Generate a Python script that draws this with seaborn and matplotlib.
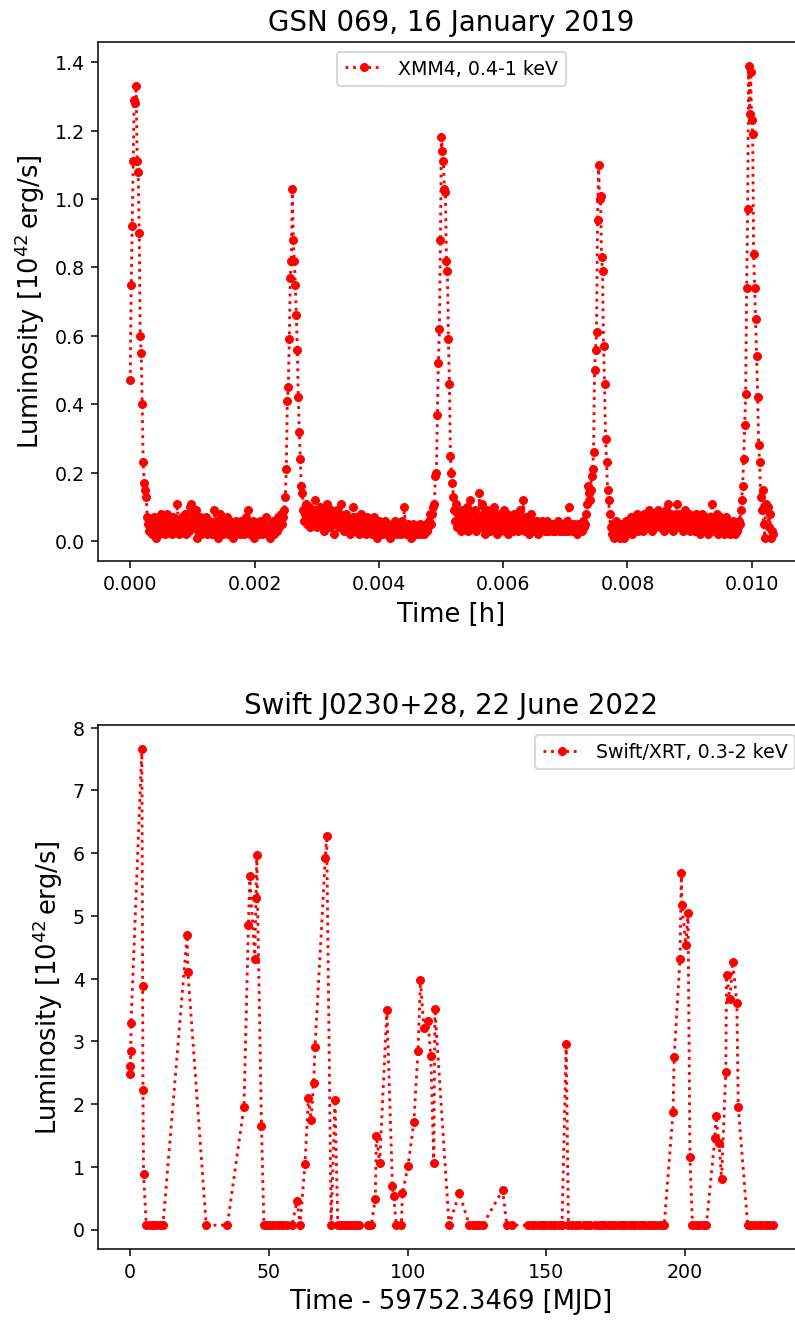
import numpy as np
import pandas as pd
import matplotlib
matplotlib.use('Agg')
import matplotlib.pyplot as plt
import seaborn as sns

# ---- GSN 069, XMM4 light curve (10^42 erg/s) ----
# one bin every 1.61e-5 h; the curve is stored piece by piece
bin_h = 1.61e-5

flare1 = [0.47, 0.75, 0.92, 1.11, 1.29, 1.28, 1.33, 1.11, 1.08, 0.90,
          0.60, 0.55, 0.40, 0.23, 0.17, 0.15, 0.13]
base1 = [0.07, 0.05, 0.03, 0.06, 0.04, 0.02, 0.05, 0.07, 0.03, 0.01,
         0.04, 0.06, 0.02, 0.05, 0.08, 0.03, 0.04, 0.06, 0.02, 0.05,
         0.08, 0.04, 0.03, 0.06, 0.05, 0.02, 0.07, 0.04, 0.06, 0.03,
         0.11, 0.05, 0.02, 0.06, 0.04, 0.07, 0.03, 0.05, 0.08, 0.02,
         0.04, 0.06, 0.03, 0.10, 0.11, 0.05, 0.08, 0.04, 0.06, 0.09,
         0.01, 0.03, 0.05, 0.07, 0.02, 0.06, 0.04, 0.03, 0.05, 0.07,
         0.02, 0.04, 0.06, 0.03, 0.05, 0.02, 0.04, 0.09, 0.03, 0.06,
         0.04, 0.01, 0.05, 0.08, 0.03, 0.06, 0.02, 0.04, 0.05, 0.03,
         0.07, 0.02, 0.04, 0.06, 0.03, 0.05, 0.01, 0.04, 0.02, 0.06,
         0.03, 0.05, 0.04, 0.02, 0.06, 0.03, 0.05, 0.02, 0.04, 0.07,
         0.03, 0.09, 0.04, 0.02, 0.05, 0.03, 0.06, 0.01, 0.04, 0.03,
         0.05, 0.02, 0.04, 0.06, 0.03, 0.02, 0.05, 0.04, 0.03, 0.07,
         0.02, 0.04, 0.03, 0.01, 0.05, 0.03, 0.06, 0.02, 0.04, 0.05,
         0.03, 0.07, 0.04, 0.06, 0.08, 0.05, 0.07]
flare2 = [0.09, 0.13, 0.21, 0.41, 0.45, 0.59, 0.77, 0.82, 1.03, 0.88,
          0.82, 0.75, 0.66, 0.56, 0.42, 0.32, 0.24, 0.16, 0.14]
base2 = [0.09, 0.06, 0.08, 0.11, 0.05, 0.07, 0.10, 0.04, 0.08, 0.06,
         0.09, 0.05, 0.12, 0.07, 0.04, 0.08, 0.06, 0.10, 0.05, 0.07,
         0.09, 0.03, 0.06, 0.08, 0.11, 0.05, 0.07, 0.04, 0.09, 0.06,
         0.08, 0.02, 0.07, 0.05, 0.09, 0.06, 0.04, 0.08, 0.11, 0.05,
         0.07, 0.03, 0.06, 0.08, 0.04, 0.07, 0.05, 0.02, 0.06, 0.04,
         0.10, 0.05, 0.03, 0.07, 0.04, 0.06, 0.02, 0.05, 0.08, 0.03,
         0.06, 0.04, 0.05, 0.02, 0.07, 0.04, 0.03, 0.06, 0.05, 0.02,
         0.04, 0.07, 0.03, 0.05, 0.01, 0.04, 0.06, 0.03, 0.05, 0.02,
         0.04, 0.03, 0.06, 0.02, 0.05, 0.03, 0.04, 0.01, 0.03, 0.05,
         0.02, 0.04, 0.06, 0.03, 0.02, 0.05, 0.03, 0.04, 0.02, 0.06,
         0.03, 0.10, 0.04, 0.02, 0.03, 0.05, 0.02, 0.04, 0.01, 0.03,
         0.05, 0.02, 0.04, 0.03, 0.02, 0.04, 0.03, 0.05, 0.02, 0.03,
         0.04, 0.02, 0.03, 0.05, 0.03, 0.04, 0.06]
flare3 = [0.08, 0.05, 0.08, 0.10, 0.11, 0.19, 0.20, 0.37, 0.52, 0.62,
          0.88, 1.18, 1.14, 1.11, 1.03, 1.02, 0.82, 0.79, 0.59, 0.46,
          0.25, 0.20, 0.17, 0.13]
base3 = [0.09, 0.06, 0.11, 0.04, 0.08, 0.05, 0.07, 0.03, 0.09, 0.06,
         0.04, 0.08, 0.05, 0.10, 0.03, 0.07, 0.12, 0.05, 0.08, 0.04,
         0.06, 0.09, 0.03, 0.07, 0.05, 0.14, 0.06, 0.04, 0.11, 0.08,
         0.05, 0.02, 0.07, 0.09, 0.04, 0.06, 0.03, 0.08, 0.05, 0.07,
         0.10, 0.04, 0.06, 0.02, 0.08, 0.05, 0.03, 0.07, 0.04, 0.06,
         0.09, 0.03, 0.05, 0.08, 0.02, 0.06, 0.04, 0.07, 0.05, 0.03,
         0.08, 0.06, 0.04, 0.07, 0.03, 0.05, 0.09, 0.04, 0.06, 0.12,
         0.05, 0.03, 0.07, 0.04, 0.06, 0.02, 0.05, 0.08, 0.04, 0.06,
         0.03, 0.05, 0.04, 0.06, 0.02, 0.05, 0.04, 0.03, 0.06, 0.04,
         0.05, 0.03, 0.04, 0.06, 0.03, 0.05, 0.04, 0.03, 0.05, 0.04,
         0.03, 0.05, 0.04, 0.06, 0.03, 0.04, 0.05, 0.03, 0.04, 0.05,
         0.03, 0.04, 0.06, 0.03, 0.10, 0.04, 0.05, 0.03, 0.04, 0.05,
         0.03, 0.04, 0.02, 0.05, 0.03, 0.04, 0.05, 0.03, 0.06, 0.04,
         0.05]
flare4 = [0.08, 0.11, 0.16, 0.14, 0.12, 0.15, 0.19, 0.21, 0.26, 0.50,
          0.56, 0.61, 0.94, 1.10, 1.00, 1.01, 0.83, 0.79, 0.57, 0.46,
          0.30, 0.23, 0.15, 0.12, 0.08]
base4 = [0.04, 0.02, 0.05, 0.01, 0.03, 0.06, 0.02, 0.04, 0.03, 0.01,
         0.05, 0.02, 0.04, 0.01, 0.03, 0.06, 0.02, 0.05, 0.03, 0.04,
         0.07, 0.02, 0.05, 0.03, 0.06, 0.04, 0.08, 0.03, 0.05, 0.07,
         0.04, 0.06, 0.03, 0.08, 0.05, 0.07, 0.04, 0.06, 0.09, 0.05,
         0.07, 0.03, 0.06, 0.08, 0.04, 0.07, 0.05, 0.09, 0.06, 0.04,
         0.08, 0.05, 0.07, 0.03, 0.06, 0.09, 0.05, 0.11, 0.07, 0.04,
         0.08, 0.06, 0.03, 0.07, 0.05, 0.08, 0.11, 0.04, 0.06, 0.08,
         0.05, 0.07, 0.03, 0.06, 0.09, 0.04, 0.07, 0.05, 0.08, 0.03,
         0.06, 0.04, 0.07, 0.05, 0.03, 0.08, 0.06, 0.04, 0.07, 0.02,
         0.05, 0.08, 0.04, 0.06, 0.03, 0.07, 0.05, 0.02, 0.06, 0.04,
         0.07, 0.11, 0.05, 0.03, 0.06, 0.04, 0.08, 0.02, 0.05, 0.07,
         0.03, 0.06, 0.04, 0.02, 0.05, 0.07, 0.03, 0.06, 0.04, 0.02,
         0.05, 0.03, 0.06, 0.04, 0.02, 0.05, 0.03, 0.04, 0.06]
flare5 = [0.05, 0.09, 0.12, 0.16, 0.24, 0.34, 0.43, 0.74, 0.97, 1.39,
          1.25, 1.37, 1.23, 1.19, 0.84, 0.74, 0.65, 0.54, 0.42, 0.28,
          0.23, 0.13, 0.09, 0.15, 0.05, 0.01, 0.11, 0.09, 0.10, 0.04,
          0.08, 0.01, 0.03, 0.02]

# ---- Swift J0230+28, Swift/XRT light curve ----
swift_time = [0.0, 0.1, 0.2, 0.3, 4.2, 4.5, 4.6, 4.8, 5.8, 7.0,
              8.2, 9.4, 10.6, 11.8, 20.5, 20.8, 27.4, 35.0, 41.0, 42.6,
              43.1, 44.9, 45.3, 45.6, 47.3, 48.2, 49.2, 50.4, 51.6, 52.8,
              54.0, 55.2, 56.4, 58.3, 60.1, 61.2, 63.0, 64.2, 65.2, 66.1,
              66.6, 70.3, 70.8, 72.4, 73.8, 74.8, 75.9, 77.0, 78.1, 79.2,
              80.3, 81.4, 82.5, 85.6, 86.9, 88.3, 88.7, 89.9, 92.5, 94.5,
              94.9, 95.9, 97.7, 98.1, 100.1, 102.2, 103.7, 104.6, 105.8, 107.3,
              108.3, 109.4, 109.8, 114.9, 118.6, 122.2, 123.4, 124.6, 125.8, 127.0,
              134.2, 135.7, 137.5, 143.5, 144.7, 146.0, 147.2, 148.4, 149.6, 150.8,
              152.0, 153.2, 154.4, 155.6, 157.1, 157.9, 159.2, 160.5, 161.8, 163.4,
              164.6, 165.8, 167.6, 168.8, 170.0, 171.2, 172.4, 173.6, 174.8, 176.0,
              177.2, 178.4, 179.6, 180.8, 182.0, 183.2, 184.4, 185.6, 186.8, 188.0,
              189.2, 190.4, 191.6, 192.4, 195.6, 196.0, 198.1, 198.6, 198.8, 200.2,
              201.0, 201.7, 202.6, 203.8, 205.0, 206.3, 207.6, 210.7, 211.0, 212.2,
              213.1, 214.6, 214.9, 216.1, 217.1, 218.6, 219.1, 222.5, 223.8, 225.1,
              226.4, 227.7, 229.0, 230.3, 231.5]
swift_lum = [2.48, 2.61, 2.84, 3.29, 7.66, 3.88, 2.23, 0.88, 0.07, 0.07,
             0.07, 0.07, 0.07, 0.07, 4.69, 4.10, 0.07, 0.07, 1.96, 4.85,
             5.64, 4.31, 5.28, 5.97, 1.65, 0.07, 0.07, 0.07, 0.07, 0.07,
             0.07, 0.07, 0.07, 0.07, 0.46, 0.07, 1.05, 2.09, 1.75, 2.34,
             2.91, 5.92, 6.28, 0.07, 2.07, 0.07, 0.07, 0.07, 0.07, 0.07,
             0.07, 0.07, 0.07, 0.07, 0.07, 0.49, 1.49, 1.06, 3.50, 0.70,
             0.54, 0.07, 0.07, 0.58, 1.01, 1.71, 2.84, 3.97, 3.21, 3.32,
             2.77, 1.06, 3.52, 0.07, 0.58, 0.07, 0.07, 0.07, 0.07, 0.07,
             0.63, 0.07, 0.07, 0.07, 0.07, 0.07, 0.07, 0.07, 0.07, 0.07,
             0.07, 0.07, 0.07, 0.07, 2.95, 0.07, 0.07, 0.07, 0.07, 0.07,
             0.07, 0.07, 0.07, 0.07, 0.07, 0.07, 0.07, 0.07, 0.07, 0.07,
             0.07, 0.07, 0.07, 0.07, 0.07, 0.07, 0.07, 0.07, 0.07, 0.07,
             0.07, 0.07, 0.07, 0.07, 1.87, 2.75, 4.31, 5.69, 5.18, 4.54,
             5.04, 1.15, 0.07, 0.07, 0.07, 0.07, 0.07, 1.46, 1.81, 1.38,
             0.81, 2.51, 4.05, 3.68, 4.27, 3.61, 1.96, 0.07, 0.07, 0.07,
             0.07, 0.07, 0.07, 0.07, 0.07]

xmm_lum = np.concatenate([flare1, base1, flare2, base2, flare3, base3,
                          flare4, base4, flare5])
xmm = pd.DataFrame({'time': np.arange(len(xmm_lum)) * bin_h, 'lum': xmm_lum})
swift = pd.DataFrame({'time': swift_time, 'lum': swift_lum})

DPI = 137
fig = plt.figure(figsize=(795.4 / DPI, 1321.4 / DPI), dpi=DPI)
# the original figure was cropped on the right, so the axes run past the edge
ax1 = fig.add_axes([0.1233, 0.5749, 0.8885, 0.3930])
ax2 = fig.add_axes([0.1233, 0.0545, 0.8885, 0.3964])

line_kw = dict(color='red', linestyle=':', linewidth=1.5, marker='o',
               markersize=4.2, markeredgecolor='red', markeredgewidth=0.5,
               sort=False, estimator=None)

sns.lineplot(data=xmm, x='time', y='lum', label='XMM4, 0.4-1 keV', ax=ax1, **line_kw)
sns.lineplot(data=swift, x='time', y='lum', label='Swift/XRT, 0.3-2 keV', ax=ax2, **line_kw)

ylab = r'Luminosity [10$^{42}\,$erg/s]'
ax1.set_title('GSN 069, 16 January 2019', fontsize=14.5)
ax1.set_xlabel('Time [h]', fontsize=13.5)
ax1.set_ylabel(ylab, fontsize=13.5)
ax1.legend(loc='upper center', fontsize=10)

ax2.set_title('Swift J0230+28, 22 June 2022', fontsize=14.5)
ax2.set_xlabel('Time - 59752.3469 [MJD]', fontsize=13.5)
ax2.set_ylabel(ylab, fontsize=13.5)
ax2.legend(loc='upper right', fontsize=10)

fig.savefig('out.png', dpi=DPI)
